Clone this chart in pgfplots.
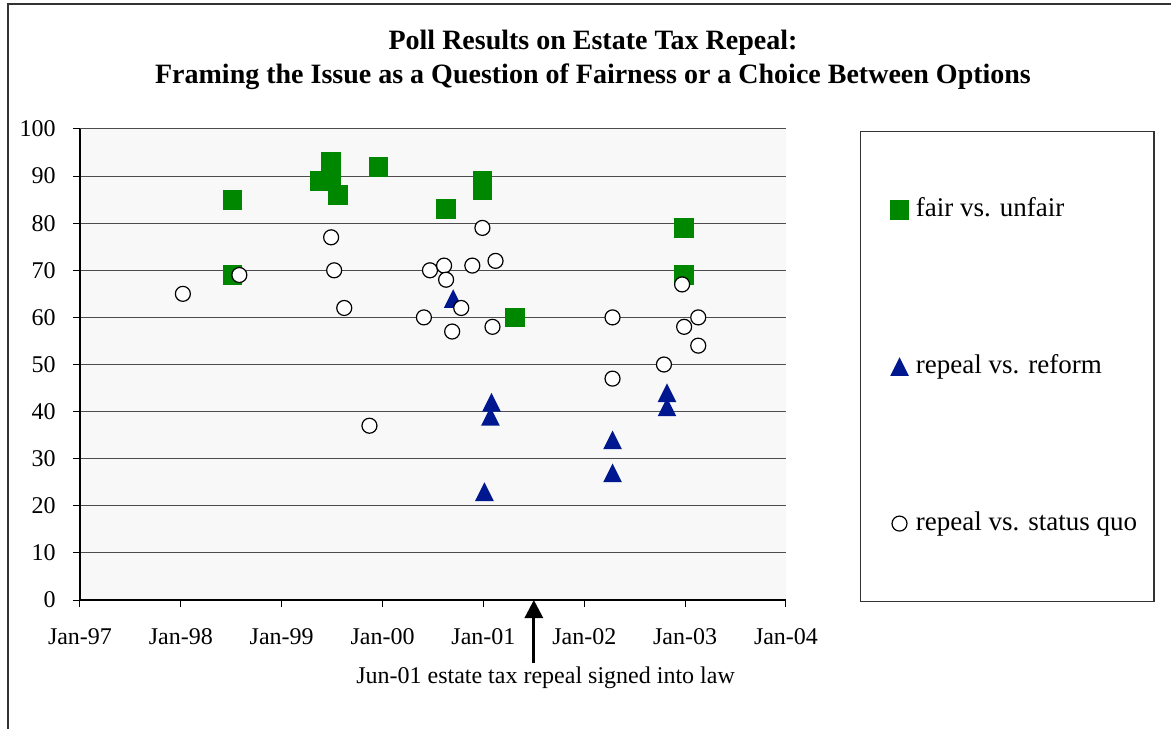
\documentclass[border=0pt]{standalone}
\usepackage{pgfplots}
\pgfplotsset{compat=1.18}
\usepackage{fontspec}
\setmainfont{Liberation Serif}
\usetikzlibrary{arrows.meta}
\definecolor{fairgreen}{RGB}{0,135,0}
\definecolor{repblue}{RGB}{0,24,143}
\definecolor{plotbg}{RGB}{248,248,248}
\pgfdeclareplotmark{xltri}{%
  \pgfpathmoveto{\pgfqpoint{0pt}{\pgfplotmarksize}}%
  \pgfpathlineto{\pgfqpoint{-\pgfplotmarksize}{-\pgfplotmarksize}}%
  \pgfpathlineto{\pgfqpoint{\pgfplotmarksize}{-\pgfplotmarksize}}%
  \pgfpathclose\pgfusepathqfill}
\begin{document}
\begin{tikzpicture}
\useasboundingbox (0,0) rectangle (585.5pt,364.5pt);
\draw[black!80, line width=0.9pt] (4pt,0) -- (4pt,362.3pt) -- (585.5pt,362.3pt);
\node[anchor=base, inner sep=0pt, font=\bfseries\fontsize{14}{17}\selectfont] at (296.5pt,339.5pt) {Poll Results on Estate Tax Repeal:};
\node[anchor=base, inner sep=0pt, font=\bfseries\fontsize{14}{17}\selectfont] at (296.5pt,322.5pt) {Framing the Issue as a Question of Fairness or a Choice Between Options};
\begin{axis}[
  at={(40pt,64.5pt)}, anchor=south west,
  scale only axis, width=353pt, height=235.5pt,
  xmin=0, xmax=7, ymin=0, ymax=100,
  xtick={0,1,2,3,4,5,6,7},
  xticklabels={Jan-97,Jan-98,Jan-99,Jan-00,Jan-01,Jan-02,Jan-03,Jan-04},
  ytick={0,10,...,100},
  axis x line*=bottom, axis y line*=left,
  tick align=outside, major tick length=3.5pt,
  tick style={black, line width=0.5pt},
  ymajorgrids, grid style={black!70, line width=0.5pt},
  axis background/.style={fill=plotbg},
  axis line style={black, line width=0.6pt},
  ticklabel style={font=\fontsize{12}{14}\selectfont},
  xticklabel style={anchor=base, inner sep=0pt, yshift=-18.5pt},
  yticklabel style={anchor=east, inner sep=0pt, xshift=-8.5pt},
  /pgf/number format/assume math mode=true,
  clip=false,
  legend style={at={(rel axis cs:1.1048,0.9958)}, anchor=north west,
    draw=black!80, line width=0.6pt, fill=white,
    inner xsep=5pt, inner ysep=30.5pt, row sep=61.5pt,
    font=\fontsize{13.5}{16}\selectfont,
    nodes={text height=10pt, text depth=3pt, inner xsep=3.5pt, inner ysep=2pt, anchor=west}},
  legend cell align=left,
  legend image code/.code={\path (0pt,0pt); \draw[#1] plot coordinates {(14.17pt,0pt)};},
]
\addplot[only marks, mark=square*, mark size=4.67pt, color=fairgreen] coordinates {
(1.51,85) (1.51,69) (2.38,89) (2.49,93) (2.49,89) (2.56,86) (2.96,92)
(3.63,83) (3.99,89) (3.99,87) (4.31,60) (5.99,79) (5.99,69)
};
\addlegendentry{fair vs. unfair}
\addplot[only marks, mark=xltri, mark size=4.67pt, color=repblue] coordinates {
(3.70,64) (4.08,42) (4.07,39) (4.01,23) (5.82,44) (5.82,41) (5.28,34) (5.28,27)
};
\addlegendentry{repeal vs. reform}
\addplot[only marks, mark=*, mark size=3.75pt, mark options={fill=white, draw=black, line width=0.6pt}] coordinates {
(1.02,65) (1.58,69) (2.49,77) (2.52,70) (2.62,62) (2.87,37) (3.41,60) (3.47,70)
(3.61,71) (3.63,68) (3.78,62) (3.69,57) (3.89,71) (3.99,79) (4.09,58) (4.12,72)
(5.28,60) (5.28,47) (5.79,50) (5.97,67) (5.99,58) (6.13,60) (6.13,54)
};
\addlegendentry{repeal vs. status quo}
\draw[line width=1.5pt, -{Triangle[width=9pt,length=9pt]}] (axis cs:4.5,-13.4) -- (axis cs:4.5,0);
\node[anchor=base, inner sep=0pt, font=\fontsize{12}{14}\selectfont] at (axis cs:4.616,-17.8) {Jun-01 estate tax repeal signed into law};
\end{axis}
\end{tikzpicture}
\end{document}
